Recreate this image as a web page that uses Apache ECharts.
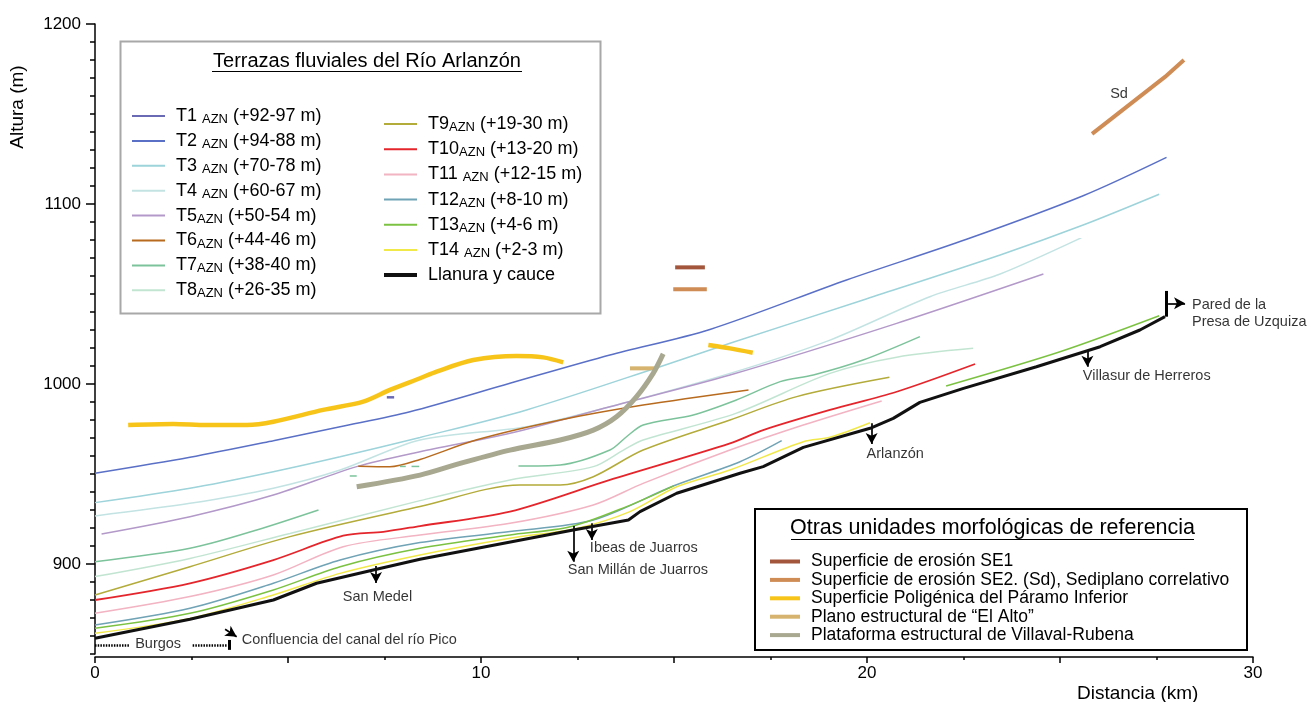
<!DOCTYPE html>
<html><head><meta charset="utf-8">
<script src="https://cdn.jsdelivr.net/npm/echarts@6/dist/echarts.min.js"></script>
<style>html,body{margin:0;padding:0;background:#fff}#c{width:1311px;height:702px}</style>
</head><body><div id="c"></div>
<script>
const FONT = 'Liberation Sans, Arial, sans-serif';

// ---- data: [distance km, altitude m] ----
const T1 = [[7.56,992.6],[7.75,992.6]];
const T2 = [[0,950.4],[2.46,959.3],[4.62,968.5],[6.35,976.3],[8.16,984.6],[10.75,1000.4],[13.34,1016.1],[15.93,1030.3],[19.47,1057.8],[22.58,1080.4],[25.6,1104.6],[27.76,1125.9]];
const T3 = [[0,934.1],[2.46,942.1],[4.62,951.3],[6.35,959.6],[8.42,970.3],[11.18,985.6],[14.64,1009.6],[16.45,1022.6],[19.9,1046.7],[23.45,1071.7],[25.6,1088.3],[27.57,1105.4]];
const T4 = [[0,926.7],[2.46,933.7],[4.62,942.1],[6.35,952.2],[8.42,968.9],[11.18,976.3],[13.34,987.4],[16.45,1005.9],[19.04,1024.4],[21.63,1048.5],[23.45,1061.1],[25.56,1081.3]];
const T5 = [[0.17,916.7],[2.46,926.3],[4.62,938.3],[6.78,954.1],[8.42,962.4],[10.75,972.6],[13.34,987.4],[16.45,1005],[20.77,1033.7],[24.57,1061.1]];
const T6 = [[6.82,954.3],[7.64,954],[8.42,958.1],[9.89,969],[12.05,980],[14.2,988.3],[16.93,996.7]];
const T7a = [[0,901.3],[2.46,908.7],[4.19,918.9],[5.79,930]];
const T7b = [[6.6,948.9],[6.78,948.9]];
const T7c = [[7.9,954.2],[8.05,954.2]];
const T7d = [[8.2,954.2],[8.4,954.2]];
const T7e = [[10.97,954.4],[12.05,955],[13.34,963.3],[13.77,970.7],[14.2,977.2],[15.5,982.8],[16.6,991],[17.75,1001.3],[18.61,1005],[19.9,1013.3],[21.37,1026.3]];
const T8 = [[0,893],[2.46,903.1],[5.05,917],[8.42,935.2],[10.75,946.7],[12.91,954.1],[13.69,963.3],[14.2,968.9],[16.6,983.7],[19.04,1005.9],[20.77,1014.9],[22.75,1019.8]];
const T9 = [[0,882.8],[2.46,898.5],[5.05,915.2],[8.42,931.9],[11.01,943.9],[12.05,943.9],[12.91,948.5],[14.2,963.3],[16.45,980],[18.18,993],[20.58,1003.7]];
const T10 = [[0,880],[2.46,889.3],[4.62,902.2],[6.43,915.7],[7.47,917.9],[8.42,921.1],[10.75,929.1],[13.34,946.7],[16.45,967],[17.31,974.4],[19.04,985.6],[20.77,995.7],[22.8,1011.1]];
const T11 = [[0,872.6],[2.46,881.9],[4.62,893.9],[6.43,909.6],[8.42,916.1],[10.75,922.6],[12.91,932.8],[14.2,944.8],[16.45,963.3],[18.35,977.2],[20.38,990.6]];
const T12 = [[0,866.1],[2.46,875.4],[4.62,889.3],[6.35,902.2],[8.42,911.9],[10.75,918],[12.91,924.4],[14.98,943.3],[16.71,956.8],[17.79,968.5]];
const T13a = [[0,864.3],[2.46,872.6],[4.62,885.6],[6.35,898.5],[8.42,908.7],[10.75,916.1],[12.31,920.7],[13.77,931.9],[14.98,943.3]];
const T13b = [[22.05,998.9],[25,1017.9],[27.57,1037.9]];
const T14 = [[0,861.5],[2.46,869.8],[4.62,882.8],[6.35,894.8],[8.42,905],[10.75,914.3],[12.48,919.8],[13.86,929.1],[15.07,942.9],[16.45,952.2],[18.35,967.9],[19.04,970.4],[20.08,978.5]];
const llanura = [[0,858.7],[2.46,869.3],[4.62,880],[5.74,889.3],[7.21,896.7],[8.42,902.6],[12.39,918.9],[13.82,924.4],[14.12,929.1],[15.07,939.3],[16.71,950.4],[17.31,954.1],[18.35,964.8],[20.08,975.4],[20.68,980.9],[21.37,989.8],[22.5,997.6],[24.39,1009.6],[26.04,1020.7],[27.07,1030],[27.72,1037.4]];

const se1 = [[15.03,1064.8],[15.8,1064.8]];
const se2a = [[14.98,1052.6],[15.85,1052.6]];
const se2sd = [[25.83,1139],[27.72,1170.6],[28.21,1180]];
const paramoA = [[0.86,977.2],[2.03,977.8],[2.89,977.2],[3.93,977.2],[4.62,979],[5.91,985.6],[6.95,990.2],[7.64,996.7],[8.42,1003.2],[8.85,1006.9],[9.8,1013.3],[10.92,1015.6],[11.61,1014.8],[12.13,1012]];
const paramoB = [[15.89,1021.7],[16.45,1019.8],[17.04,1017.4]];
const elAlto = [[13.86,1008.7],[14.51,1008.7]];
const villaval = [[6.78,942.9],[8.42,949.4],[9.46,955.9],[10.75,963.3],[12.05,968.9],[12.91,974.4],[13.51,981.8],[14.03,993],[14.46,1005.9],[14.72,1016.7]];

// annotations
const annotTexts = [
  ['Confluencia del canal del río Pico', 3.8, 857.8],
  ['San Medel', 6.42, 881.7],
  ['Ibeas de Juarros', 12.82, 908.9],
  ['San Millán de Juarros', 12.25, 896.7],
  ['Arlanzón', 19.99, 961.1],
  ['Villasur de Herreros', 25.59, 1004.4],
  ['Pared de la', 28.42, 1043.9],
  ['Presa de Uzquiza', 28.42, 1034.4],
  ['Sd', 26.3, 1161.1],
  ['Burgos', 1.04, 855.6]
];
const arrows = [
  [[3.37,863.7],[3.67,859.6]],
  [[7.28,898.9],[7.28,889.4]],
  [[12.39,921.1],[12.39,901.3]],
  [[12.87,922.6],[12.87,913.3]],
  [[20.12,978.2],[20.12,966.7]],
  [[25.71,1018.9],[25.71,1009.6]],
  [[27.8,1044.8],[28.24,1044.8]]
];
const bars = [[[27.74,1051.7],[27.74,1037.4]], [[3.47,852.3],[3.47,857.8]]];
const dotted = [[[0,855],[0.9,855]], [[2.53,855],[3.41,855]]];

// axis ticks / labels
const xLabelValues = [0,10,20,30];
const xMajorTicks = [0,5,10,15,20,25,30];
const yLabelValues = [900,1000,1100,1200];

// legend texts
const legendLeft = ['T1','T2','T3','T4','T5','T6','T7','T8'];
const legendRight = ['T9','T10','T11','T12','T13','T14'];
const legendText = {
  T1:['T1 ','AZN',' (+92-97 m)'], T2:['T2 ','AZN',' (+94-88 m)'], T3:['T3 ','AZN',' (+70-78 m)'],
  T4:['T4 ','AZN',' (+60-67 m)'], T5:['T5','AZN',' (+50-54 m)'], T6:['T6','AZN',' (+44-46 m)'],
  T7:['T7','AZN',' (+38-40 m)'], T8:['T8','AZN',' (+26-35 m)'], T9:['T9','AZN',' (+19-30 m)'],
  T10:['T10','AZN',' (+13-20 m)'], T11:['T11 ','AZN',' (+12-15 m)'], T12:['T12','AZN',' (+8-10 m)'],
  T13:['T13','AZN',' (+4-6 m)'], T14:['T14 ','AZN',' (+2-3 m)']
};
const otherNames = ['Superficie de erosión SE1','Superficie de erosión SE2. (Sd), Sediplano correlativo','Superficie Poligénica del Páramo Inferior','Plano estructural de “El Alto”','Plataforma estructural de Villaval-Rubena'];

// ---- styles ----
const C = {T1:'#6a6ab4',T2:'#5a70c6',T3:'#9dd3da',T4:'#c3e3e3',T5:'#b399c9',T6:'#b86b1e',T7:'#7cc39b',T8:'#c2e5d2',T9:'#b3ab3a',T10:'#e4262c',T11:'#f2b3c2',T12:'#6fa3b5',T13:'#7cc242',T14:'#f1e84a',L:'#111111',SE1:'#a3563c',SE2:'#cf8c55',PAR:'#f7c41a',ALTO:'#d6b36e',VIL:'#a8a890'};

function seg(name, data, color, width, extra){
  return Object.assign({type:'line', name:name, data:data, symbol:'none', showSymbol:false, color:color,
    lineStyle:{color:color, width:width}, smooth:0.3, silent:true, z:2, clip:false}, extra||{});
}
const series = [
  seg('T1',T1,C.T1,2.5,{smooth:false}),
  seg('T2',T2,C.T2,1.5),
  seg('T3',T3,C.T3,1.5),
  seg('T4',T4,C.T4,1.5),
  seg('T5',T5,C.T5,1.5),
  seg('T6',T6,C.T6,1.5),
  seg('T7',T7a,C.T7,1.5), seg('T7',T7b,C.T7,1.5), seg('T7',T7c,C.T7,1.5), seg('T7',T7d,C.T7,1.5), seg('T7',T7e,C.T7,1.5),
  seg('T8',T8,C.T8,1.5),
  seg('T9',T9,C.T9,1.5),
  seg('T10',T10,C.T10,1.8),
  seg('T11',T11,C.T11,1.5),
  seg('T12',T12,C.T12,1.5),
  seg('T13',T13a,C.T13,1.5), seg('T13',T13b,C.T13,1.5),
  seg('T14',T14,C.T14,1.5),
  seg(otherNames[0],se1,C.SE1,4,{smooth:false}),
  seg(otherNames[1],se2a,C.SE2,4,{smooth:false}), seg(otherNames[1],se2sd,C.SE2,4,{smooth:false}),
  seg(otherNames[2],paramoA,C.PAR,4.5), seg(otherNames[2],paramoB,C.PAR,4.5),
  seg(otherNames[3],elAlto,C.ALTO,4,{smooth:false}),
  seg(otherNames[4],villaval,C.VIL,5),
  seg('Llanura y cauce',llanura,C.L,3,{smooth:false, z:5,
    markLine:{silent:true, symbol:['none','arrow'], symbolSize:[9,11], label:{show:false}, animation:false,
      lineStyle:{color:'#000', width:1.7, type:'solid'},
      data: arrows.map(a=>[{coord:a[0]},{coord:a[1]}])
        .concat(bars.map(b=>[{coord:b[0], symbol:'none', lineStyle:{width:3, color:'#000', type:'solid'}},{coord:b[1], symbol:'none'}]))
        .concat(dotted.map(d=>[{coord:d[0], symbol:'none', lineStyle:{width:2.5, color:'#000', type:[1.5,1.2]}},{coord:d[1], symbol:'none'}]))
    }}),
  {type:'scatter', name:'annot', data:annotTexts.map(a=>[a[1],a[2],a[0]]), symbolSize:0, silent:true, z:6,
    label:{show:true, position:[0,0], align:'left', verticalAlign:'middle', color:'#000', fontFamily:FONT,
      fontSize:14.5, formatter:p=>p.data[2]}}
];

const rich = {
  n:{fontSize:18, fontFamily:FONT, color:'#000', lineHeight:20},
  s:{fontSize:13, fontFamily:FONT, color:'#000', lineHeight:13, verticalAlign:'bottom'}
};
function fmt(name){ const t = legendText[name]; return '{n|'+t[0]+'}{s|'+t[1]+'}{n|'+t[2]+'}'; }
const legBase = {orient:'vertical', icon:'rect', padding:0, itemWidth:33, itemHeight:2, selectedMode:false,
  textStyle:{color:'#000', fontFamily:FONT, fontSize:18, padding:[0,0,0,6], rich:rich}, formatter:fmt};

const axLine = {lineStyle:{color:'#000', width:1.5}};
const plain = v => String(v);
const option = {
  animation:false,
  backgroundColor:'#fff',
  grid:{left:95, right:58, top:24, bottom:48, containLabel:false},
  xAxis:[
    {type:'value', min:0, max:30, interval:2.5, position:'bottom', offset:3, axisLine:axLine,
      axisTick:{length:3, lineStyle:{color:'#000', width:1.5}}, axisLabel:{show:false}, splitLine:{show:false}},
    {type:'value', min:0, max:30, position:'bottom', offset:3, axisLine:{show:false},
      axisTick:{show:true, customValues:xMajorTicks, length:6, lineStyle:{color:'#000', width:1.5}},
      axisLabel:{customValues:xLabelValues, formatter:plain, fontSize:17, color:'#000', fontFamily:FONT, margin:8}, splitLine:{show:false}}
  ],
  yAxis:[
    {type:'value', min:850, max:1200, interval:10, position:'left', offset:2, axisLine:axLine,
      axisTick:{length:5, lineStyle:{color:'#000', width:1.5}}, axisLabel:{show:false}, splitLine:{show:false}},
    {type:'value', min:850, max:1200, position:'left', offset:2, axisLine:{show:false},
      axisTick:{show:true, customValues:yLabelValues, length:9, lineStyle:{color:'#000', width:1.5}},
      axisLabel:{customValues:yLabelValues, formatter:plain, fontSize:17, color:'#000', fontFamily:FONT, margin:12}, splitLine:{show:false}}
  ],
  legend:[
    Object.assign({}, legBase, {data:legendLeft, left:132, top:107, itemGap:5.9}),
    Object.assign({}, legBase, {data:legendRight, left:384, top:115, itemGap:6.2}),
    {orient:'vertical', icon:'rect', padding:0, itemWidth:33, itemHeight:4, selectedMode:false, left:384, top:265,
      data:['Llanura y cauce'], textStyle:{color:'#000', fontFamily:FONT, fontSize:18, lineHeight:20, padding:[0,0,0,6]}},
    {orient:'vertical', icon:'rect', padding:0, itemWidth:30, itemHeight:4, selectedMode:false, left:770, top:552.5,
      itemGap:0.4, data:otherNames, textStyle:{color:'#000', fontFamily:FONT, fontSize:17.5, lineHeight:18, padding:[0,0,0,6]}}
  ],
  graphic:[
    {type:'rect', z:0, shape:{x:120.5, y:41.5, width:480, height:272}, style:{fill:'#fff', stroke:'#a8a8a8', lineWidth:2}},
    {type:'text', z:10, x:367, y:61, style:{text:'Terrazas fluviales del Río Arlanzón', fontSize:20, fontFamily:FONT, fill:'#000', align:'center', verticalAlign:'middle'}},
    {type:'line', z:10, shape:{x1:212, y1:71.5, x2:522, y2:71.5}, style:{stroke:'#000', lineWidth:1}},
    {type:'rect', z:0, shape:{x:755, y:509, width:492, height:141}, style:{fill:'#fff', stroke:'#000', lineWidth:2}},
    {type:'text', z:10, x:992.5, y:528, style:{text:'Otras unidades morfológicas de referencia', fontSize:21.5, fontFamily:FONT, fill:'#000', align:'center', verticalAlign:'middle'}},
    {type:'line', z:10, shape:{x1:791, y1:539.5, x2:1194, y2:539.5}, style:{stroke:'#000', lineWidth:1}},
    {type:'text', z:10, x:18, y:107, rotation:Math.PI/2, style:{text:'Altura (m)', fontSize:19, fontFamily:FONT, fill:'#000', align:'center', verticalAlign:'middle'}},
    {type:'text', z:10, x:1077, y:694, style:{text:'Distancia (km)', fontSize:19, fontFamily:FONT, fill:'#000', align:'left', verticalAlign:'middle'}}
  ],
  series:series
};
const chart = echarts.init(document.getElementById('c'), null, {renderer:'canvas'});
chart.setOption(option);
</script>
</body></html>
